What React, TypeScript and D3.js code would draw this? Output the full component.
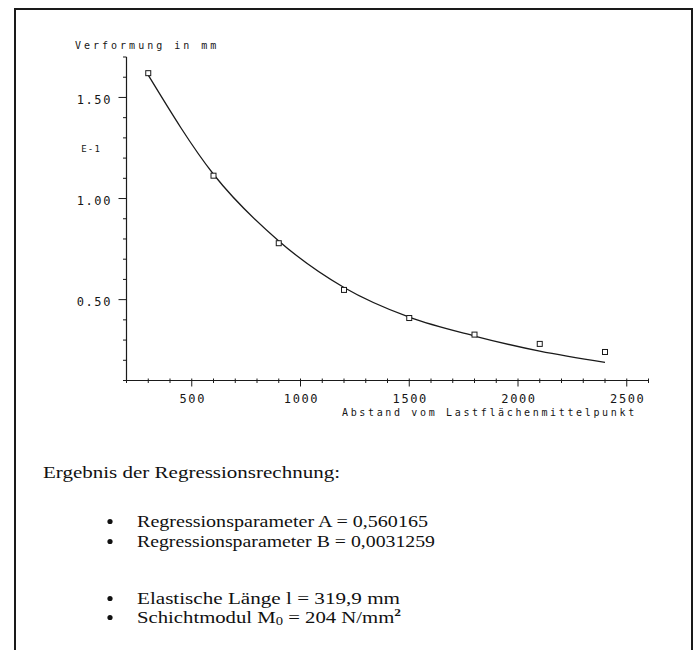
import React from "react";
import * as d3 from "d3";

// Measured points (distance from load-plate centre in mm, deflection)
const distances = [300, 600, 900, 1200, 1500, 1800, 2100, 2400];
const deflections = [1.62, 1.113, 0.779, 0.548, 0.409, 0.327, 0.281, 0.241];

// Regression curve
const fitDistances = [300, 600, 900, 1200, 1500, 1800, 2100, 2400];
const fitDeflections = [1.61, 1.12, 0.79, 0.56, 0.413, 0.32, 0.245, 0.19];

const xMajorTicks = [500, 1000, 1500, 2000, 2500];
const xTickLabels = ["500", "1000", "1500", "2000", "2500"];
const yMajorTicks = [0.5, 1.0, 1.5];
const yTickLabels = ["0.50", "1.00", "1.50"];

const yAxisTitle = "Verformung in mm";
const xAxisTitle = "Abstand vom Lastflächenmittelpunkt";
const exponentLabel = "E-1";

const resultTitle = "Ergebnis der Regressionsrechnung:";
const paramA = "Regressionsparameter A = 0,560165";
const paramB = "Regressionsparameter B = 0,0031259";
const elasticLength = "Elastische Länge l = 319,9 mm";

export default function App() {
  const x = d3.scaleLinear().domain([200, 2600]).range([126.5, 648.5]);
  const y = d3.scaleLinear().domain([0.1, 1.7]).range([380.5, 57]);

  const xMinor = d3.range(200, 2601, 100);
  const yMinor = d3.range(1, 18).map((i) => i / 10);

  const line = d3
    .line<number>()
    .x((_, i) => x(fitDistances[i]))
    .y((d) => y(d))
    .curve(d3.curveMonotoneX);

  const ink = "#1a1a1a";
  const textInk = "#161616";
  const plotFont = "'DejaVu Sans Mono', monospace";
  const serif = "'Liberation Serif', 'Times New Roman', serif";
  const x0 = x(200);
  const yB = y(0.1);
  const fs = 17;

  return (
    <svg
      width={695}
      height={650}
      style={{ position: "absolute", left: 0, top: 0, background: "#fff" }}
    >
      {/* page frame */}
      <rect x={15} y={9} width={677} height={660} fill="none" stroke={ink} strokeWidth={2} />

      {/* y axis */}
      <line x1={x0} x2={x0} y1={y(1.7)} y2={yB} stroke={ink} strokeWidth={1.2} />
      {yMinor.map((v) => {
        const major = yMajorTicks.some((m) => Math.abs(m - v) < 1e-6);
        return (
          <line
            key={"ym" + v}
            x1={x0 - (major ? 8 : 3.5)}
            x2={x0}
            y1={y(v)}
            y2={y(v)}
            stroke={ink}
            strokeWidth={1}
          />
        );
      })}
      {yMajorTicks.map((v, i) => (
        <text
          key={"yl" + v}
          x={112}
          y={y(v) + 6.5}
          textAnchor="end"
          fontFamily={plotFont}
          fontSize={12}
          letterSpacing={1.6}
          fill={textInk}
        >
          {yTickLabels[i]}
        </text>
      ))}
      <text x={101} y={y(1.25) + 4.5} textAnchor="end" fontFamily={plotFont} fontSize={9} fill={textInk} letterSpacing={1.2}>
        {exponentLabel}
      </text>
      <text x={75} y={49} fontFamily={plotFont} fontSize={10} fill={textInk} letterSpacing={3}>
        {yAxisTitle}
      </text>

      {/* x axis */}
      <line x1={x0} x2={x(2600)} y1={yB} y2={yB} stroke={ink} strokeWidth={1.2} />
      {xMinor.map((v) => {
        const major = xMajorTicks.includes(v);
        return (
          <line
            key={"xm" + v}
            x1={x(v)}
            x2={x(v)}
            y1={yB - 2}
            y2={yB + (major ? 6 : 2.5)}
            stroke={ink}
            strokeWidth={1}
          />
        );
      })}
      {xMajorTicks.map((v, i) => (
        <text
          key={"xl" + v}
          x={x(v) + 1}
          y={403}
          textAnchor="middle"
          fontFamily={plotFont}
          fontSize={12}
          letterSpacing={1.6}
          fill={textInk}
        >
          {xTickLabels[i]}
        </text>
      ))}
      <text x={342} y={416} fontFamily={plotFont} fontSize={10} fill={textInk} letterSpacing={2.65}>
        {xAxisTitle}
      </text>

      {/* regression curve */}
      <path d={line(fitDeflections) ?? ""} fill="none" stroke={ink} strokeWidth={1.3} />

      {/* measured points */}
      {distances.map((d, i) => (
        <rect
          key={"p" + d}
          x={x(d) - 2.5}
          y={y(deflections[i]) - 2.5}
          width={5}
          height={5}
          fill="#fff"
          stroke={ink}
          strokeWidth={1}
        />
      ))}

      {/* results text */}
      <text x={43} y={478} fontFamily={serif} fontSize={fs} fill="#111" textLength={297} lengthAdjust="spacingAndGlyphs">
        {resultTitle}
      </text>
      {[527, 547, 604, 623].map((b) => (
        <circle key={"b" + b} cx={110} cy={b - 5.5} r={2.6} fill="#111" />
      ))}
      <text x={137} y={527} fontFamily={serif} fontSize={fs} fill="#111" textLength={291} lengthAdjust="spacingAndGlyphs">
        {paramA}
      </text>
      <text x={137} y={547} fontFamily={serif} fontSize={fs} fill="#111" textLength={298} lengthAdjust="spacingAndGlyphs">
        {paramB}
      </text>
      <text x={137} y={604} fontFamily={serif} fontSize={fs} fill="#111" textLength={263} lengthAdjust="spacingAndGlyphs">
        {elasticLength}
      </text>
      <text x={137} y={623} fontFamily={serif} fontSize={fs} fill="#111" textLength={264} lengthAdjust="spacingAndGlyphs">
        <tspan>Schichtmodul M</tspan>
        <tspan fontSize={12} dy={2}>0</tspan>
        <tspan dy={-2}> = 204 N/mm</tspan>
        <tspan fontSize={11} dy={-7} fontWeight="bold">2</tspan>
      </text>
    </svg>
  );
}
